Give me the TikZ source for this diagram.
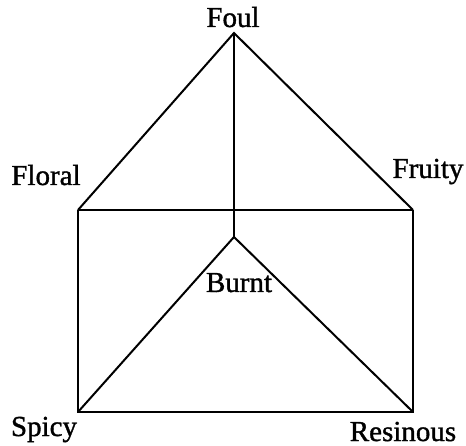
\documentclass[tikz,border=0pt]{standalone}
\usepackage{fontspec}
\setmainfont{Liberation Serif}
% regular serif face, set slightly heavier for the vertex names
\newfontfamily\vertexfont{Liberation Serif}[BoldFont={Liberation Serif},BoldFeatures={FakeBold=1.2}]
\begin{document}
\begin{tikzpicture}[x=1pt,y=-1pt,
  edge/.style={line width=2pt,line join=miter},
  lbl/.style={anchor=base,inner sep=0pt,font=\vertexfont\bfseries\fontsize{29}{31}\selectfont}]
\useasboundingbox (0,0) rectangle (466,446);
% corners of the prism
\coordinate (apex) at (234,33);
\coordinate (fl) at (78,210);
\coordinate (fr) at (413,210);
\coordinate (ctr) at (234,237);
\coordinate (sp) at (78,412);
\coordinate (rs) at (413,412);
% edges
\draw[edge] (fl) -- (apex) -- (fr);
\draw[edge] (apex) -- (ctr);
\draw[edge] (fl) -- (fr);
\draw[edge] (fl) -- (sp) -- (rs) -- (fr);
\draw[edge] (sp) -- (ctr) -- (rs);
% labels
\node[lbl] (foul) at (233,27) {Foul};
\node[lbl] (floral) at (46,185) {Floral};
\node[lbl] (fruity) at (428,178) {Fruity};
\node[lbl] (burnt) at (239,292) {Burnt};
\node[lbl] (spicy) at (44,436) {Spicy};
\node[lbl] (resinous) at (403,441) {Resinous};
\end{tikzpicture}
\end{document}
